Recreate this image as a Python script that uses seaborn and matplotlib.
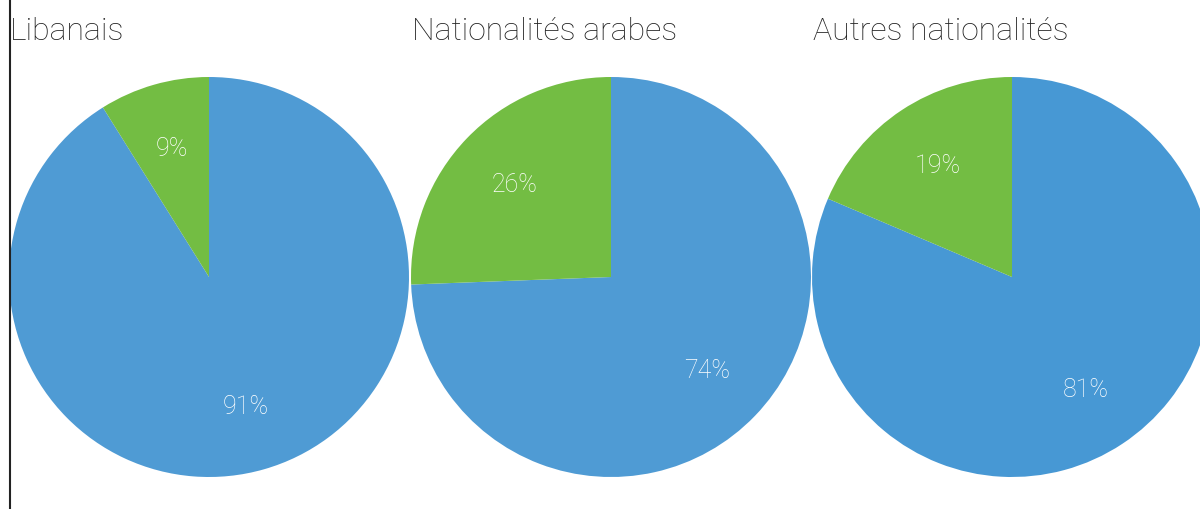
import matplotlib
matplotlib.use('Agg')
import matplotlib.pyplot as plt
from matplotlib.lines import Line2D
import seaborn as sns

# Data (shares)
titles = ['Libanais', 'Nationalités arabes', 'Autres nationalités']
blue_share = [91.1, 74.4, 81.4]
green_share = [8.9, 25.6, 18.6]
blue_colors = ['#4f9bd4', '#4f9bd4', '#4798d4']
green_color = '#73bd43'

sns.set_theme(style='white')
plt.rcParams['font.family'] = ['Roboto', 'DejaVu Sans']

W, H = 1200, 510
fig = plt.figure(figsize=(W / 100, H / 100), dpi=100)

centers_x = [209, 611, 1012]
center_y = 278
radius_px = 200

for i, title in enumerate(titles):
    cx = centers_x[i]
    ax = fig.add_axes([(cx - radius_px) / W, (H - center_y - radius_px) / H,
                       2 * radius_px / W, 2 * radius_px / H])
    ax.pie([blue_share[i], green_share[i]],
           colors=[blue_colors[i], green_color],
           startangle=90, counterclock=False,
           autopct='%.0f%%', pctdistance=0.67,
           wedgeprops={'linewidth': 0},
           textprops={'color': 'white', 'fontsize': 18, 'fontweight': 'light'})
    ax.set_xlim(-1, 1)
    ax.set_ylim(-1, 1)
    ax.set_aspect('equal')
    ax.axis('off')
    fig.text((cx - radius_px + 1) / W, (H - 40) / H, title, ha='left', va='baseline',
             fontsize=23, fontweight='light', color='#222222')

# left vertical rule
fig.add_artist(Line2D([10 / W, 10 / W], [0, 1], color='#222222', linewidth=1.5))

plt.savefig('out.png', dpi=100)
plt.close()
